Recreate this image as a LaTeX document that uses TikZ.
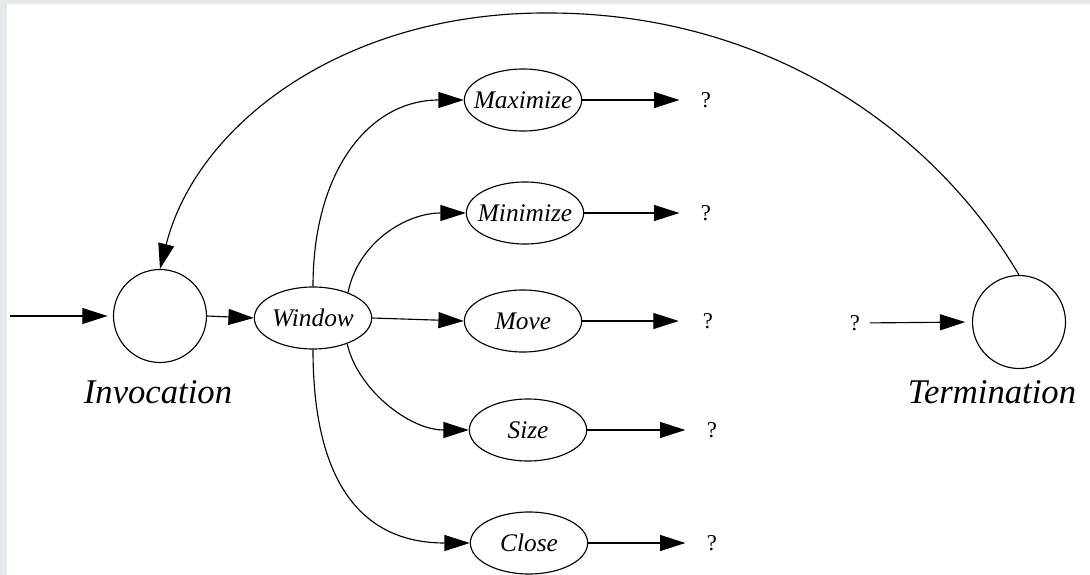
\documentclass[tikz,border=0pt]{standalone}
\usepackage{fontspec}
\setmainfont{Liberation Serif}
\usetikzlibrary{shapes.geometric,arrows.meta}
\definecolor{bgframe}{HTML}{E6E9EC}
\newcommand{\zw}[1]{\makebox[0pt][c]{#1}}
\begin{document}
\begin{tikzpicture}[x=0.75pt,y=-0.75pt,
  state/.style={circle,draw,line width=0.85pt,minimum size=69.75pt,inner sep=0pt},
  act/.style={ellipse,draw,line width=0.85pt,minimum width=88pt,minimum height=46.5pt,inner sep=0pt,font=\fontsize{19}{19}\selectfont\itshape},
  qm/.style={inner sep=0pt,font=\fontsize{17}{17}\selectfont},
  lbl/.style={inner sep=0pt,font=\fontsize{26}{26}\selectfont\itshape},
  conn/.style={line width=0.85pt,-{Triangle[length=19pt,width=12pt]}},
]
\fill[bgframe] (0,0) rectangle (1090,575);
\fill[white] (7,4) rectangle (1090,575);
\useasboundingbox (0,0) rectangle (1090,575);

\node[state] (inv) at (160,316) {};
\node[state] (term) at (1019,322) {};
\node[act] (win) at (313,318) {\zw{Window}};
\node[act] (max) at (523,100) {\zw{Maximize}};
\node[act] (min) at (525,213) {\zw{Minimize}};
\node[act] (move) at (523,321) {\zw{Move}};
\node[act] (size) at (528,430) {\zw{Size}};
\node[act] (close) at (529,543) {\zw{Close}};

\node[qm] (q1) at (706,100) {?};
\node[qm] (q2) at (706,213) {?};
\node[qm] (q3) at (708,321) {?};
\node[qm] (q4) at (712,430) {?};
\node[qm] (q5) at (712,543) {?};
\node[qm] (q6) at (855,323) {?};

\node[lbl] (invl) at (158,392) {Invocation};
\node[lbl] (terml) at (992,392) {Termination};

\coordinate (src) at (10,316);
\coordinate (peak) at (545,13);

\draw[conn,shorten >=4pt] (src) -- (inv.west);
\draw[conn] (inv.east) -- (win.west);

\draw[conn] (win.north) .. controls +(0,-115) and +(-95,0) .. (max.west);
\draw[conn] (win.36) .. controls +(10,-50) and +(-60,0) .. (min.west);
\draw[conn] (win.east) -- (move.west);
\draw[conn] (win.-37) .. controls +(10,45) and +(-60,0) .. (size.west);
\draw[conn] (win.south) .. controls +(0,130) and +(-110,0) .. (close.west);

\draw[conn,shorten >=16pt] (max.east) -- (q1.west);
\draw[conn,shorten >=16pt] (min.east) -- (q2.west);
\draw[conn,shorten >=18pt] (move.east) -- (q3.west);
\draw[conn,shorten >=16pt] (size.east) -- (q4.west);
\draw[conn,shorten >=16pt] (close.east) -- (q5.west);

\draw[conn,shorten <=7pt,shorten >=5pt] (q6.east) -- (term.west);

\draw[conn] (term.north) .. controls (929,123) and (760,12) .. (peak)
  .. controls (345,13) and (197,123) .. (inv.north);
\end{tikzpicture}
\end{document}
